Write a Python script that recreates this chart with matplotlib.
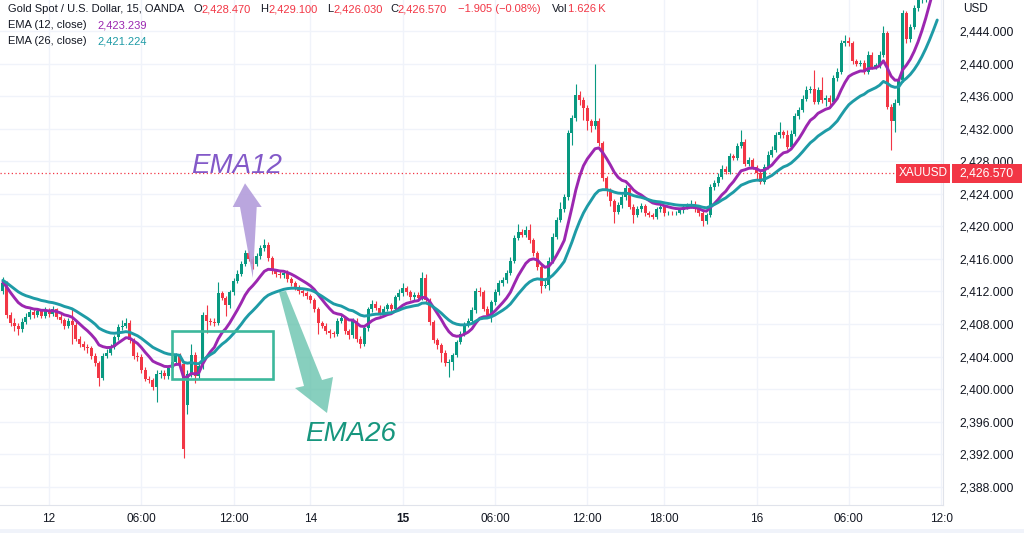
import numpy as np
import pandas as pd
import matplotlib.pyplot as plt
from matplotlib.patches import Polygon, Rectangle
from matplotlib.ticker import FuncFormatter

# XAUUSD 15 min candles (12 Jul -> 16 Jul)
opens = [
    2412.1, 2413.0, 2409.1, 2408.1, 2407.8, 2407.4, 2408.3, 2408.9, 2409.5, 2409.1,
    2409.6, 2409.0, 2409.7, 2409.2, 2409.8, 2408.9, 2408.5, 2407.8, 2408.4, 2407.9,
    2406.2, 2405.6, 2405.2, 2405.0, 2404.1, 2403.2, 2401.4, 2404.1, 2404.5, 2405.2,
    2406.4, 2407.6, 2407.8, 2408.1, 2406.0, 2404.1, 2403.9, 2402.4, 2401.3, 2401.1,
    2400.3, 2401.9, 2402.0, 2401.6, 2402.6, 2403.3, 2404.1, 2403.1, 2398.1, 2401.9,
    2404.2, 2401.6, 2402.9, 2409.1, 2408.4, 2408.3, 2408.1, 2411.8, 2411.2, 2410.3,
    2411.9, 2413.3, 2414.2, 2415.4, 2416.7, 2416.0, 2415.4, 2416.3, 2417.3, 2417.7,
    2416.1, 2414.5, 2414.2, 2414.0, 2414.3, 2413.5, 2413.0, 2412.5, 2412.0, 2411.8,
    2411.4, 2410.9, 2409.8, 2408.1, 2407.8, 2407.1, 2406.9, 2406.8, 2408.4, 2408.7,
    2407.1, 2406.6, 2408.4, 2406.2, 2405.6, 2407.5, 2409.8, 2410.5, 2410.0, 2409.4,
    2409.9, 2410.3, 2409.9, 2411.3, 2411.8, 2412.4, 2411.9, 2411.3, 2411.6, 2411.2,
    2413.6, 2410.9, 2408.2, 2406.0, 2405.4, 2404.5, 2403.2, 2403.3, 2404.2, 2405.8,
    2406.8, 2407.9, 2408.4, 2409.7, 2412.0, 2411.9, 2409.9, 2409.1, 2410.7, 2411.9,
    2413.0, 2413.4, 2414.3, 2415.8, 2418.6, 2419.3, 2419.0, 2419.6, 2418.3, 2416.7,
    2415.0, 2412.7, 2412.8, 2415.8, 2418.7, 2420.8, 2422.1, 2423.6, 2431.5, 2433.3,
    2436.2, 2435.5, 2434.6, 2432.9, 2432.3, 2433.0, 2430.2, 2425.9, 2424.4, 2423.1,
    2421.8, 2422.6, 2423.6, 2424.7, 2422.4, 2421.4, 2422.1, 2422.5, 2421.6, 2421.4,
    2421.2, 2422.1, 2422.4, 2421.6, 2421.7, 2421.6, 2421.7, 2422.0, 2422.4, 2422.6,
    2422.8, 2422.1, 2421.6, 2420.6, 2421.4, 2424.8, 2425.3, 2426.1, 2427.1, 2426.7,
    2428.6, 2428.4, 2429.9, 2430.4, 2427.7, 2428.1, 2427.3, 2426.6, 2425.5, 2427.3,
    2428.8, 2429.4, 2431.2, 2431.6, 2431.2, 2429.8, 2431.4, 2433.5, 2434.3, 2435.7,
    2436.8, 2436.9, 2435.3, 2436.7, 2435.5, 2435.8, 2435.3, 2438.2, 2439.0, 2442.5,
    2442.8, 2442.5, 2440.3, 2440.0, 2440.1, 2439.0, 2441.1, 2439.6, 2439.8, 2441.1,
    2443.7, 2434.7, 2432.9, 2435.2, 2438.0, 2446.2, 2443.0, 2444.5, 2446.8, 2449.0,
    2451.5, 2454.0, 2456.5, 2459.0,
]
closes = [
    2413.0, 2409.1, 2408.1, 2407.8, 2407.4, 2408.3, 2408.9, 2409.5, 2409.1, 2409.6,
    2409.0, 2409.7, 2409.2, 2409.8, 2408.9, 2408.5, 2407.8, 2408.4, 2407.9, 2406.2,
    2405.6, 2405.2, 2405.0, 2404.1, 2403.2, 2401.4, 2404.1, 2404.5, 2405.2, 2406.4,
    2407.6, 2407.8, 2408.1, 2406.0, 2404.1, 2403.9, 2402.4, 2401.3, 2401.1, 2400.3,
    2401.9, 2402.0, 2401.6, 2402.6, 2403.3, 2404.1, 2403.1, 2392.6, 2401.9, 2404.2,
    2401.6, 2402.9, 2409.1, 2408.4, 2408.3, 2408.1, 2411.8, 2411.2, 2410.3, 2411.9,
    2413.3, 2414.2, 2415.4, 2416.7, 2416.0, 2415.4, 2416.3, 2417.3, 2417.7, 2416.1,
    2414.5, 2414.2, 2414.0, 2414.3, 2413.5, 2413.0, 2412.5, 2412.0, 2411.8, 2411.4,
    2410.9, 2409.8, 2408.1, 2407.8, 2407.1, 2406.9, 2406.8, 2408.4, 2408.7, 2407.1,
    2406.6, 2408.4, 2406.2, 2405.6, 2407.5, 2409.8, 2410.5, 2410.0, 2409.4, 2409.9,
    2410.3, 2409.9, 2411.3, 2411.8, 2412.4, 2411.9, 2411.3, 2411.6, 2411.2, 2413.6,
    2410.9, 2408.2, 2406.0, 2405.4, 2404.5, 2403.2, 2403.3, 2404.2, 2405.8, 2406.8,
    2407.9, 2408.4, 2409.7, 2412.0, 2411.9, 2409.9, 2409.1, 2410.7, 2411.9, 2413.0,
    2413.4, 2414.3, 2415.8, 2418.6, 2419.3, 2419.0, 2419.6, 2418.3, 2416.7, 2415.0,
    2412.7, 2412.8, 2415.8, 2418.7, 2420.8, 2422.1, 2423.6, 2431.5, 2433.3, 2436.2,
    2435.5, 2434.6, 2432.9, 2432.3, 2433.0, 2430.2, 2425.9, 2424.4, 2423.1, 2421.8,
    2422.6, 2423.6, 2424.7, 2422.4, 2421.4, 2422.1, 2422.5, 2421.6, 2421.4, 2421.2,
    2422.1, 2422.4, 2421.6, 2421.7, 2421.6, 2421.7, 2422.0, 2422.4, 2422.6, 2422.8,
    2422.1, 2421.6, 2420.6, 2421.4, 2424.8, 2425.3, 2426.1, 2427.1, 2426.7, 2428.6,
    2428.4, 2429.9, 2430.4, 2427.7, 2428.1, 2427.3, 2426.6, 2425.5, 2427.3, 2428.8,
    2429.4, 2431.2, 2431.6, 2431.2, 2429.8, 2431.4, 2433.5, 2434.3, 2435.7, 2436.8,
    2436.9, 2435.3, 2436.7, 2435.5, 2435.8, 2435.3, 2438.2, 2439.0, 2442.5, 2442.8,
    2442.5, 2440.3, 2440.0, 2440.1, 2439.0, 2441.1, 2439.6, 2439.8, 2441.1, 2443.7,
    2434.7, 2432.9, 2435.2, 2438.0, 2446.2, 2443.0, 2444.5, 2446.8, 2449.0, 2451.5,
    2454.0, 2456.5, 2459.0, 2461.0,
]
highs = [
    2413.8, 2413.3, 2409.5, 2408.8, 2408.1, 2408.7, 2409.3, 2409.9, 2409.8, 2410.0,
    2409.9, 2410.1, 2410.0, 2410.2, 2410.0, 2409.2, 2408.8, 2408.8, 2409.8, 2408.2,
    2406.5, 2405.9, 2405.5, 2405.3, 2404.4, 2403.5, 2404.4, 2404.9, 2405.6, 2406.7,
    2408.0, 2408.5, 2408.8, 2408.5, 2406.3, 2404.6, 2404.3, 2402.7, 2401.6, 2401.4,
    2402.3, 2402.4, 2402.3, 2403.0, 2403.7, 2404.5, 2404.4, 2403.4, 2402.3, 2405.6,
    2404.6, 2403.3, 2409.5, 2410.3, 2408.8, 2408.7, 2413.2, 2412.1, 2411.5, 2412.2,
    2413.7, 2414.6, 2415.8, 2417.1, 2417.0, 2416.3, 2416.7, 2417.7, 2418.4, 2418.1,
    2416.4, 2414.8, 2414.5, 2414.6, 2414.6, 2413.8, 2413.3, 2412.8, 2412.3, 2412.1,
    2411.7, 2411.2, 2410.1, 2408.4, 2408.1, 2407.4, 2407.2, 2408.7, 2409.1, 2409.0,
    2407.4, 2408.8, 2408.7, 2406.5, 2407.8, 2410.1, 2410.9, 2410.8, 2410.3, 2410.2,
    2410.6, 2410.6, 2411.6, 2412.3, 2413.1, 2412.7, 2412.2, 2411.9, 2411.9, 2414.4,
    2414.1, 2411.2, 2408.5, 2406.3, 2405.7, 2404.8, 2403.7, 2404.5, 2406.1, 2407.2,
    2408.3, 2408.8, 2410.1, 2412.4, 2412.5, 2412.2, 2410.2, 2411.0, 2412.3, 2413.4,
    2413.8, 2414.7, 2416.2, 2419.0, 2420.3, 2419.7, 2420.1, 2420.3, 2418.6, 2417.0,
    2415.3, 2413.4, 2416.2, 2419.2, 2421.2, 2423.0, 2424.0, 2431.9, 2433.7, 2437.5,
    2436.6, 2435.9, 2434.9, 2433.2, 2439.9, 2433.3, 2430.5, 2426.2, 2424.7, 2423.4,
    2423.0, 2424.0, 2425.1, 2425.0, 2422.7, 2422.5, 2422.9, 2422.8, 2421.9, 2421.7,
    2422.4, 2422.7, 2422.6, 2421.9, 2421.9, 2421.9, 2422.2, 2422.7, 2422.9, 2423.2,
    2423.1, 2422.4, 2421.9, 2421.7, 2425.2, 2425.7, 2426.5, 2427.5, 2427.4, 2429.0,
    2428.9, 2430.3, 2431.9, 2430.7, 2428.5, 2428.4, 2427.6, 2426.9, 2427.7, 2429.2,
    2429.9, 2431.6, 2432.8, 2431.9, 2431.9, 2431.8, 2433.9, 2434.7, 2436.1, 2437.2,
    2437.3, 2439.2, 2437.1, 2438.4, 2436.1, 2436.1, 2438.6, 2439.4, 2442.9, 2443.5,
    2443.3, 2442.8, 2440.6, 2440.4, 2440.4, 2441.5, 2441.4, 2440.1, 2441.5, 2444.6,
    2444.0, 2435.0, 2435.6, 2438.4, 2446.6, 2446.5, 2444.9, 2447.2, 2449.5, 2452.0,
    2454.5, 2457.0, 2459.5, 2461.5,
]
lows = [
    2411.7, 2408.8, 2407.7, 2407.2, 2406.7, 2407.0, 2408.0, 2408.6, 2408.8, 2408.9,
    2408.7, 2408.8, 2408.9, 2409.0, 2408.6, 2408.1, 2407.4, 2407.5, 2405.6, 2405.9,
    2405.2, 2404.8, 2404.5, 2403.7, 2402.8, 2400.4, 2401.1, 2403.8, 2404.2, 2404.9,
    2406.1, 2407.3, 2407.5, 2405.7, 2403.7, 2403.4, 2402.0, 2401.0, 2400.7, 2399.9,
    2398.4, 2401.4, 2401.2, 2401.3, 2402.3, 2403.0, 2402.7, 2391.6, 2396.9, 2401.5,
    2400.7, 2401.3, 2402.5, 2406.9, 2407.9, 2407.8, 2407.9, 2410.9, 2409.0, 2410.0,
    2411.6, 2413.0, 2413.9, 2415.1, 2415.7, 2414.8, 2415.1, 2416.0, 2417.0, 2415.8,
    2414.2, 2413.8, 2413.7, 2413.7, 2413.2, 2412.7, 2412.2, 2411.7, 2411.5, 2411.1,
    2410.6, 2409.5, 2406.8, 2407.5, 2406.8, 2406.3, 2406.4, 2406.5, 2408.1, 2406.8,
    2406.2, 2406.3, 2405.8, 2405.0, 2405.3, 2407.2, 2409.5, 2409.7, 2409.1, 2409.1,
    2409.6, 2409.6, 2409.6, 2411.0, 2411.5, 2411.6, 2411.0, 2411.0, 2410.9, 2410.9,
    2410.6, 2407.9, 2405.7, 2404.9, 2403.3, 2402.8, 2401.5, 2402.3, 2403.9, 2405.5,
    2406.5, 2407.6, 2408.1, 2409.4, 2411.5, 2409.6, 2408.8, 2408.3, 2410.4, 2411.6,
    2412.7, 2413.1, 2414.0, 2415.5, 2418.3, 2418.7, 2418.7, 2418.0, 2416.4, 2414.7,
    2411.8, 2412.4, 2412.2, 2415.5, 2418.4, 2420.5, 2421.8, 2423.3, 2430.0, 2433.0,
    2434.9, 2433.1, 2431.9, 2431.6, 2432.0, 2429.9, 2425.6, 2423.7, 2422.5, 2420.4,
    2421.5, 2422.3, 2423.3, 2422.1, 2420.4, 2421.1, 2421.8, 2421.3, 2421.1, 2420.9,
    2420.9, 2421.8, 2421.3, 2421.4, 2421.4, 2421.4, 2421.5, 2421.7, 2422.1, 2422.3,
    2421.8, 2421.3, 2420.0, 2420.3, 2421.1, 2424.5, 2425.0, 2425.8, 2426.4, 2426.4,
    2428.1, 2428.1, 2429.6, 2427.4, 2427.4, 2427.0, 2425.8, 2425.2, 2425.2, 2427.0,
    2428.5, 2429.1, 2430.9, 2430.9, 2429.5, 2429.5, 2431.1, 2433.2, 2434.0, 2435.4,
    2436.4, 2435.0, 2435.0, 2435.2, 2434.8, 2434.7, 2435.0, 2437.9, 2438.7, 2442.2,
    2442.2, 2440.0, 2439.7, 2439.7, 2438.7, 2438.7, 2439.3, 2439.3, 2439.5, 2440.8,
    2434.4, 2429.4, 2431.6, 2434.9, 2437.7, 2442.5, 2442.7, 2444.2, 2446.5, 2447.4,
    2447.6, 2453.7, 2456.2, 2458.7,
]

# EMA values just left of the first visible bar
ema12_start = 2413.2
ema26_start = 2413.4

time_ticks = [12, 36, 60, 80, 104, 128, 152, 172, 196, 220, 244]
time_labels = ['12', '06:00', '12:00', '14', '15', '06:00', '12:00', '18:00', '16', '06:00', '12:0']
price_ticks = np.arange(2388, 2445, 4)
last_price = 2426.57

GREEN = '#089981'
RED = '#f23645'
TXT = '#131722'
GRID = '#f0f3fa'
C_EMA12 = '#9c27b0'
C_EMA26 = '#1e9ba6'

plt.rcParams['font.family'] = ['Liberation Sans', 'DejaVu Sans']

x = np.arange(len(closes))
o = np.array(opens)
c = np.array(closes)
up = c >= o
colors = np.where(up, GREEN, RED)

ema12 = pd.Series([ema12_start] + closes).ewm(span=12, adjust=False).mean().values[1:]
ema26 = pd.Series([ema26_start] + closes).ewm(span=26, adjust=False).mean().values[1:]

fig = plt.figure(figsize=(10.24, 5.33), dpi=100)
ax = fig.add_axes([0, 28 / 533, 943 / 1024, 505 / 533])

ax.vlines(x, lows, highs, colors=colors, lw=0.8, zorder=2)
body = np.maximum(np.abs(c - o), 0.08)
ax.bar(x, body, bottom=np.minimum(o, c), width=0.78, color=colors, linewidth=0, zorder=3)

ax.plot(x, ema12, color=C_EMA12, lw=2.1, zorder=4, solid_capstyle='round')
ax.plot(x, ema26, color=C_EMA26, lw=2.1, zorder=4, solid_capstyle='round')

ax.axhline(last_price, color=RED, lw=0.9, ls=(0, (1, 2)), zorder=1)

ax.set_xlim(-0.744, 244.5)
ax.set_ylim(2385.77, 2447.81)

ax.set_xticks(time_ticks)
ax.set_xticklabels(time_labels)
ax.set_yticks(price_ticks)
ax.yaxis.set_major_formatter(FuncFormatter(lambda v, _: f'{v:,.3f}'))
ax.yaxis.tick_right()
ax.tick_params(axis='y', length=0, pad=12, labelsize=8.7, labelcolor=TXT)
ax.tick_params(axis='x', length=0, pad=6, labelsize=8.5, labelcolor=TXT)
ax.get_xticklabels()[4].set_fontweight('bold')
ax.grid(color=GRID, lw=1, zorder=0)
ax.set_axisbelow(True)
for s in ['top', 'left']:
    ax.spines[s].set_visible(False)
for s in ['right', 'bottom']:
    ax.spines[s].set_color('#e0e3eb')
    ax.spines[s].set_linewidth(0.8)

# drawings (anchored to bar index / price like a chart drawing tool)
ax.add_patch(Rectangle((44.0, 2401.25), 26.3, 5.9, fill=False,
                       edgecolor='#3db89c', lw=1.9, zorder=5))
ax.add_patch(Polygon([(65.0, 2413.66), (61.67, 2422.38), (59.78, 2422.38), (62.98, 2425.29),
                      (67.32, 2422.38), (66.02, 2422.38)],
                     closed=True, facecolor='#b39ddb', edgecolor='none', alpha=0.9, zorder=6))
ax.add_patch(Polygon([(71.82, 2411.94), (78.32, 2400.39), (75.98, 2400.14), (84.3, 2397.07),
                      (85.86, 2401.49), (83.0, 2401.12), (73.64, 2412.06)],
                     closed=True, facecolor='#5fbfa8', edgecolor='none', alpha=0.75, zorder=6))
ax.text(48.9, 2426.5, 'EMA12', color='#8359c8', fontsize=20,
        style='italic', va='baseline', ha='left', zorder=7)
ax.text(78.58, 2393.6, 'EMA26', color='#17967e', fontsize=20,
        style='italic', va='baseline', ha='left', zorder=7)

# overlay in pixel coordinates for the legend and price-scale labels
ov = fig.add_axes([0, 0, 1, 1])
ov.set_xlim(0, 1024)
ov.set_ylim(533, 0)
ov.axis('off')
ov.patch.set_alpha(0)

fs = 8
ov.text(8, 9, 'Gold Spot / U.S. Dollar, 15, OANDA', color=TXT, fontsize=fs, va='center')
for xl, letter, xv, val in [(193, 'O', 201, '2,428.470'), (260, 'H', 268, '2,429.100'),
                            (327, 'L', 333, '2,426.030'), (390, 'C', 397, '2,426.570')]:
    ov.text(xl, 9, letter, color=TXT, fontsize=fs, va='center')
    ov.text(xv, 9, val, color=RED, fontsize=fs, va='center')
ov.text(458, 9, '\u22121.905 (\u22120.08%)', color=RED, fontsize=fs, va='center')
ov.text(552, 9, 'Vol', color=TXT, fontsize=fs, va='center')
ov.text(568, 9, '1.626\u2009K', color=RED, fontsize=fs, va='center')
ov.text(8, 25, 'EMA (12, close)', color=TXT, fontsize=fs, va='center')
ov.text(97, 25, '2,423.239', color=C_EMA12, fontsize=fs, va='center')
ov.text(8, 41, 'EMA (26, close)', color=TXT, fontsize=fs, va='center')
ov.text(97, 41, '2,421.224', color=C_EMA26, fontsize=fs, va='center')

ov.text(963, 9, 'USD', color=TXT, fontsize=8.5, va='center')

ov.add_patch(Rectangle((896, 164), 54, 19, facecolor=RED, edgecolor='none', zorder=5))
ov.text(923, 173.5, 'XAUUSD', color='white', fontsize=8.5, ha='center', va='center', zorder=6)
ov.add_patch(Rectangle((952, 164), 70, 19, facecolor=RED, edgecolor='none', zorder=5))
ov.text(987, 173.5, '2,426.570', color='white', fontsize=8.7, ha='center', va='center', zorder=6)
ov.add_patch(Rectangle((0, 529), 1024, 4, facecolor='#f0f3fa', edgecolor='none'))

fig.savefig('out.png', dpi=100, facecolor='white')
